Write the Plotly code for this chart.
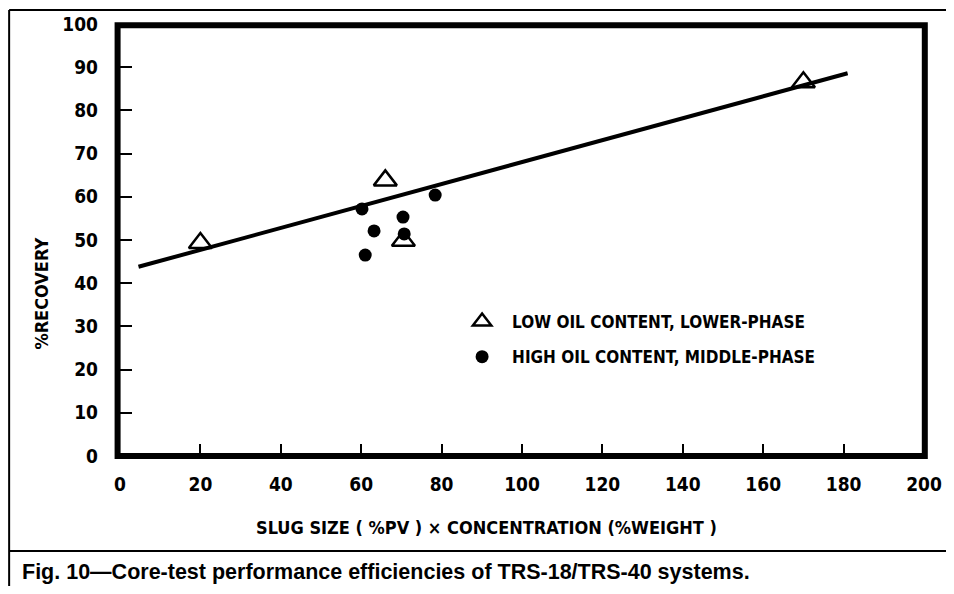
import plotly.graph_objects as go

# ---- data ----
low_oil_x = [20, 66, 70.5, 170]
low_oil_y = [49.3, 63.8, 49.8, 86.5]

high_oil_x = [78.4, 60.2, 70.4, 63.2, 70.7, 61.0]
high_oil_y = [60.4, 57.2, 55.3, 52.1, 51.4, 46.5]

fit_x = [4.6, 181]
fit_y = [43.8, 88.6]

x_ticks = [0, 20, 40, 60, 80, 100, 120, 140, 160, 180, 200]
y_ticks = [0, 10, 20, 30, 40, 50, 60, 70, 80, 90, 100]

low_name = "LOW OIL CONTENT, LOWER-PHASE"
high_name = "HIGH OIL CONTENT, MIDDLE-PHASE"
x_title = "SLUG SIZE ( %PV ) \u00d7 CONCENTRATION (%WEIGHT )"
y_title = "%RECOVERY"
caption = "Fig. 10\u2014Core-test performance efficiencies of TRS-18/TRS-40 systems."

COND = "DejaVu Sans Condensed"
OFF = 8  # page offset of the figure (body margin)
W, H = 938, 578
L, T = 111.5, 16
PW, PH = 805, 432
R = W - L - PW
B = H - T - PH


def px(xpage):
    return (xpage - OFF - L) / PW


def py(ypage):
    return (T + PH - (ypage - OFF)) / PH


fig = go.Figure()

fig.add_trace(go.Scatter(
    x=fit_x, y=fit_y, mode="lines",
    line=dict(color="black", width=4), showlegend=False, hoverinfo="skip"))

fig.add_trace(go.Scatter(
    x=low_oil_x, y=low_oil_y, mode="markers", name=low_name, legendgroup="a",
    marker=dict(symbol="triangle-up-open", size=20, color="black",
                line=dict(color="black", width=2.5))))

fig.add_trace(go.Scatter(
    x=high_oil_x, y=high_oil_y, mode="markers", name=high_name, legendgroup="b",
    marker=dict(symbol="circle", size=13, color="black")))

axis_common = dict(
    showgrid=False, zeroline=False, showline=False,
    ticks="inside", ticklen=12, tickwidth=2, tickcolor="black",
    tickfont=dict(family=COND, size=19, color="black", weight="bold"),
    fixedrange=True,
)

fig.update_xaxes(range=[0, 200], tickvals=x_ticks, ticktext=[str(v) for v in x_ticks],
                 ticklabelstandoff=15, **axis_common)
fig.update_yaxes(range=[0, 100], tickvals=y_ticks, ticktext=[str(v) for v in y_ticks],
                 ticklabelstandoff=21, **axis_common)

shapes = [
    # heavy plot frame
    dict(type="rect", xref="paper", yref="paper", x0=-0.003, y0=0, x1=1.001, y1=0.997,
         line=dict(color="black", width=6), layer="above"),
    # outer figure box
    dict(type="line", xref="paper", yref="paper", x0=px(8.5), x1=px(8.5), y0=py(10), y1=py(H + 40),
         line=dict(color="black", width=2)),
    dict(type="line", xref="paper", yref="paper", x0=px(8.5), x1=px(W + 40), y0=py(10), y1=py(10),
         line=dict(color="black", width=2)),
    dict(type="line", xref="paper", yref="paper", x0=px(8.5), x1=px(W + 40), y0=py(551), y1=py(551),
         line=dict(color="black", width=2)),
]

annotations = [
    dict(text=y_title, xref="paper", yref="paper", x=px(40), y=py(294), textangle=-90,
         showarrow=False, xanchor="center", yanchor="middle",
         font=dict(family=COND, size=18, color="black", weight="bold")),
    dict(text=x_title, xref="paper", yref="paper", x=px(486), y=py(527),
         showarrow=False, xanchor="center", yanchor="middle",
         font=dict(family=COND, size=18, color="black", weight="bold")),
    dict(text=caption, xref="paper", yref="paper", x=px(19), y=py(572),
         showarrow=False, xanchor="left", yanchor="middle",
         font=dict(family="Liberation Sans", size=21.5, color="black", weight="bold")),
]

fig.update_layout(
    width=W, height=H,
    margin=dict(l=L, r=R, t=T, b=B, autoexpand=False),
    paper_bgcolor="white", plot_bgcolor="white",
    shapes=shapes, annotations=annotations,
    showlegend=True,
    legend=dict(x=px(452), y=py(304), xanchor="left", yanchor="top",
                bgcolor="rgba(0,0,0,0)", itemwidth=50, tracegroupgap=10,
                traceorder="grouped",
                font=dict(family=COND, size=17, color="black", weight="bold")),
)

fig.write_html("out.html")
